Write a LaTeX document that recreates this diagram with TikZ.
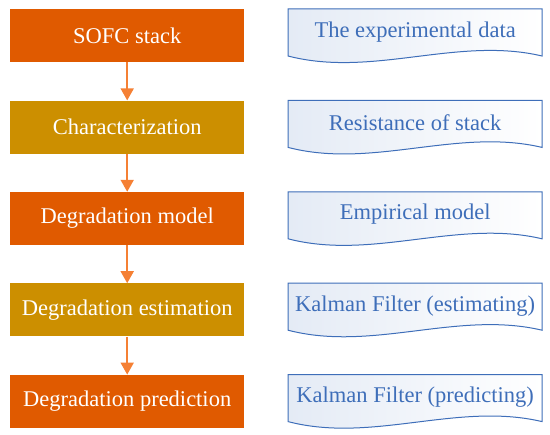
\documentclass[tikz,border=0pt]{standalone}
\usepackage{fontspec}
\setmainfont{Liberation Serif}
\usepackage{tikz}
\usetikzlibrary{arrows.meta, positioning, calc}
\definecolor{stage-orange}{RGB}{224, 90, 0}
\definecolor{stage-gold}{RGB}{204, 143, 0}
\definecolor{flow-orange}{RGB}{245, 128, 52}
\definecolor{doc-blue}{RGB}{62, 110, 185}

\begin{document}
\begin{tikzpicture}[
  x=1pt, y=1pt,
  node distance=38pt,
  stage/.style={rectangle, minimum width=234pt, minimum height=53pt, align=center, text=white, inner sep=0pt, font=\fontsize{22.5}{26}\selectfont},
  doc/.style={rectangle, minimum width=254pt, minimum height=47pt, align=center, text=doc-blue, inner sep=0pt, font=\fontsize{22.5}{26}\selectfont},
  arrow/.style={-{Triangle[width=13pt,length=12pt]}, flow-orange, line width=1.8pt}
]
  \useasboundingbox (0,0) rectangle (550,-435);

  % left column: the processing steps
  \node[stage, fill=stage-orange, anchor=north west] (sofc) at (10,-9) {SOFC stack};
  \node[stage, fill=stage-gold, below=of sofc] (charac) {Characterization};
  \node[stage, fill=stage-orange, below=of charac] (model) {Degradation model};
  \node[stage, fill=stage-gold, below=of model] (estim) {Degradation estimation};
  \node[stage, fill=stage-orange, below=of estim] (predict) {Degradation prediction};

  \draw[arrow] (sofc) -- (charac);
  \draw[arrow] (charac) -- (model);
  \draw[arrow] (model) -- (estim);
  \draw[arrow] (estim) -- (predict);

  % right column: document shapes
  \foreach \stepnode/\name in {sofc/data, charac/resist, model/empir, estim/kfest, predict/kfpred} {
    \coordinate (\name-top) at ($(\stepnode.north west)+(278,0)$);
    \path[draw=doc-blue, line width=1pt, left color=doc-blue!14, right color=white]
      (\name-top) -- ++(254,0) -- ++(0,-47)
      .. controls ++(-84.7,20) and ($(\name-top)+(84.7,-69)$) .. ($(\name-top)+(0,-47)$) -- cycle;
  }
  \node[doc, anchor=north west] (data) at ($(sofc.north west)+(278,1)$) {The experimental data};
  \node[doc, anchor=north west] (resist) at ($(charac.north west)+(278,1)$) {Resistance of stack};
  \node[doc, anchor=north west] (empir) at ($(model.north west)+(278,1)$) {Empirical model};
  \node[doc, anchor=north west] (kfest) at ($(estim.north west)+(278,1)$) {Kalman Filter (estimating)};
  \node[doc, anchor=north west] (kfpred) at ($(predict.north west)+(278,1)$) {Kalman Filter (predicting)};
\end{tikzpicture}
\end{document}
